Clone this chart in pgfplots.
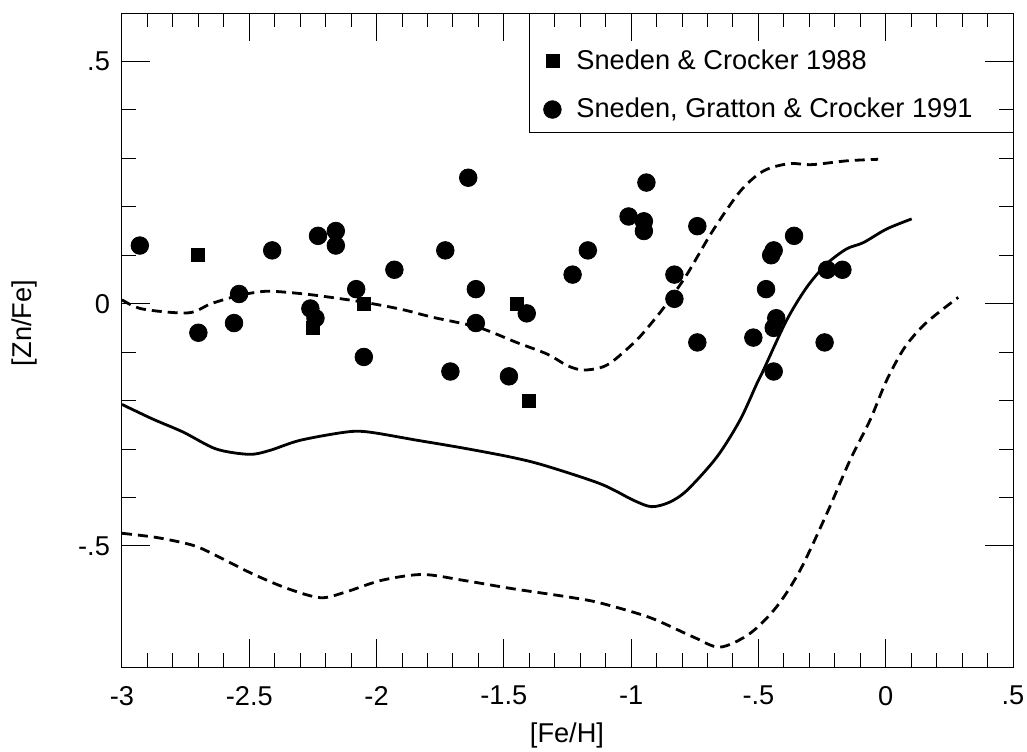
\documentclass[border=0pt]{standalone}
\usepackage{fontspec}
\setmainfont{Liberation Sans}
\usepackage{pgfplots}
\pgfplotsset{compat=1.18}
\newcommand{\fs}{\fontsize{13.6}{16}\selectfont}
\begin{document}
\begin{tikzpicture}
\useasboundingbox (-61pt,-42pt) rectangle (452.5pt,333.5pt);
\begin{axis}[
  at={(0,0)}, anchor=south west,
  scale only axis, width=445.5pt, height=327pt,
  xmin=-3, xmax=0.5, ymin=-0.75, ymax=0.6,
  xtick={-3,-2.5,-2,-1.5,-1,-0.5,0,0.5},
  xticklabels={-3,-2.5,-2,-1.5,-1,-.5,0,.5},
  ytick={-0.5,0,0.5}, yticklabels={-.5,0,.5},
  minor x tick num=4, minor y tick num=4,
  tick align=inside, major tick length=14pt, minor tick length=7pt,
  axis line style={line width=0.5pt},
  every tick/.style={line width=0.5pt, black},
  tick label style={font=\fs},
  xticklabel style={yshift=-6pt},
  yticklabel style={xshift=-2.5pt},
  xlabel={[Fe/H]}, ylabel={[Zn/Fe]},
  every axis x label/.style={at={(axis description cs:0.4994,-0.104)}, anchor=center, font=\fs},
  every axis y label/.style={at={(axis description cs:-0.1089,0.526)}, anchor=center, rotate=90, font=\fs},
  legend style={at={(axis description cs:0.4714,0.951)}, anchor=north west, draw=none, fill=none,
    font=\fs, inner xsep=0pt, inner ysep=0pt, row sep=9pt},
  legend cell align=left,
  legend image code/.code={\path[draw=none,fill=none] (-5pt,-5pt) rectangle (10pt,5pt); \draw[#1] plot coordinates {(0pt,0pt)};},
  clip=false,
]
\addplot[only marks, mark=square*, mark size=3.25pt, black] coordinates {
(-2.70,0.10) (-2.25,-0.05) (-2.05,0.00) (-1.45,0.00) (-1.40,-0.20)
};
\addlegendentry{Sneden \& Crocker 1988}
\addplot[only marks, mark=*, mark size=4.4pt, black] coordinates {
(-2.93,0.12) (-2.70,-0.06) (-2.56,-0.04) (-2.54,0.02) (-2.41,0.11)
(-2.23,0.14) (-2.16,0.15) (-2.16,0.12) (-2.26,-0.01) (-2.24,-0.03)
(-2.08,0.03) (-2.05,-0.11) (-1.93,0.07) (-1.73,0.11) (-1.71,-0.14)
(-1.64,0.26) (-1.61,0.03) (-1.61,-0.04) (-1.48,-0.15) (-1.41,-0.02)
(-1.23,0.06) (-1.17,0.11) (-1.01,0.18) (-0.95,0.17) (-0.95,0.15)
(-0.94,0.25) (-0.83,0.06) (-0.83,0.01) (-0.74,0.16) (-0.74,-0.08)
(-0.52,-0.07) (-0.47,0.03) (-0.45,0.10) (-0.44,0.11) (-0.43,-0.03)
(-0.44,-0.05) (-0.44,-0.14) (-0.36,0.14) (-0.23,0.07) (-0.24,-0.08)
(-0.17,0.07)
};
\addlegendentry{Sneden, Gratton \& Crocker 1991}
% upper dashed
\addplot[black, line width=1.4pt, dash pattern=on 5pt off 3pt, smooth, tension=0.5, forget plot] coordinates {
(-3.0,0.008) (-2.92,-0.011) (-2.74,-0.019) (-2.65,0.0) (-2.54,0.017) (-2.45,0.025)
(-2.39,0.025) (-2.25,0.018) (-2.05,0.003) (-1.9,-0.012) (-1.78,-0.028)
(-1.6,-0.049) (-1.45,-0.08) (-1.33,-0.104) (-1.25,-0.128) (-1.19,-0.137)
(-1.12,-0.132) (-1.07,-0.118) (-0.98,-0.076) (-0.92,-0.04) (-0.86,0.0)
(-0.78,0.061) (-0.68,0.15) (-0.57,0.233) (-0.48,0.274) (-0.38,0.289)
(-0.29,0.287) (-0.15,0.295) (-0.03,0.298)
};
% solid
\addplot[black, line width=1.4pt, smooth, tension=0.5, forget plot] coordinates {
(-3.0,-0.208) (-2.88,-0.238) (-2.76,-0.265) (-2.63,-0.300) (-2.5,-0.311)
(-2.42,-0.303) (-2.3,-0.282) (-2.12,-0.265) (-2.03,-0.265) (-1.84,-0.282)
(-1.66,-0.298) (-1.47,-0.317) (-1.34,-0.334) (-1.12,-0.372) (-0.99,-0.406)
(-0.92,-0.419) (-0.85,-0.410) (-0.78,-0.385) (-0.664,-0.317) (-0.573,-0.241)
(-0.507,-0.166) (-0.481,-0.138) (-0.39,-0.035) (-0.31,0.034) (-0.232,0.082)
(-0.154,0.113) (-0.088,0.126) (0.003,0.154) (0.102,0.175)
};
% lower dashed
\addplot[black, line width=1.4pt, dash pattern=on 5pt off 3pt, smooth, tension=0.5, forget plot] coordinates {
(-3.0,-0.474) (-2.86,-0.483) (-2.72,-0.499) (-2.63,-0.52) (-2.49,-0.557)
(-2.35,-0.588) (-2.22,-0.607) (-2.12,-0.595) (-1.98,-0.571) (-1.82,-0.559)
(-1.66,-0.571) (-1.47,-0.588) (-1.24,-0.606) (-1.12,-0.618) (-0.926,-0.648)
(-0.756,-0.688) (-0.651,-0.709) (-0.534,-0.681) (-0.429,-0.626) (-0.337,-0.551)
(-0.232,-0.434) (-0.141,-0.324) (-0.062,-0.241) (0.003,-0.159) (0.075,-0.09)
(0.16,-0.039) (0.285,0.013)
};
\draw[line width=0.5pt] (rel axis cs:0.4579,1) |- (rel axis cs:1,0.818);
\end{axis}
\end{tikzpicture}
\end{document}
